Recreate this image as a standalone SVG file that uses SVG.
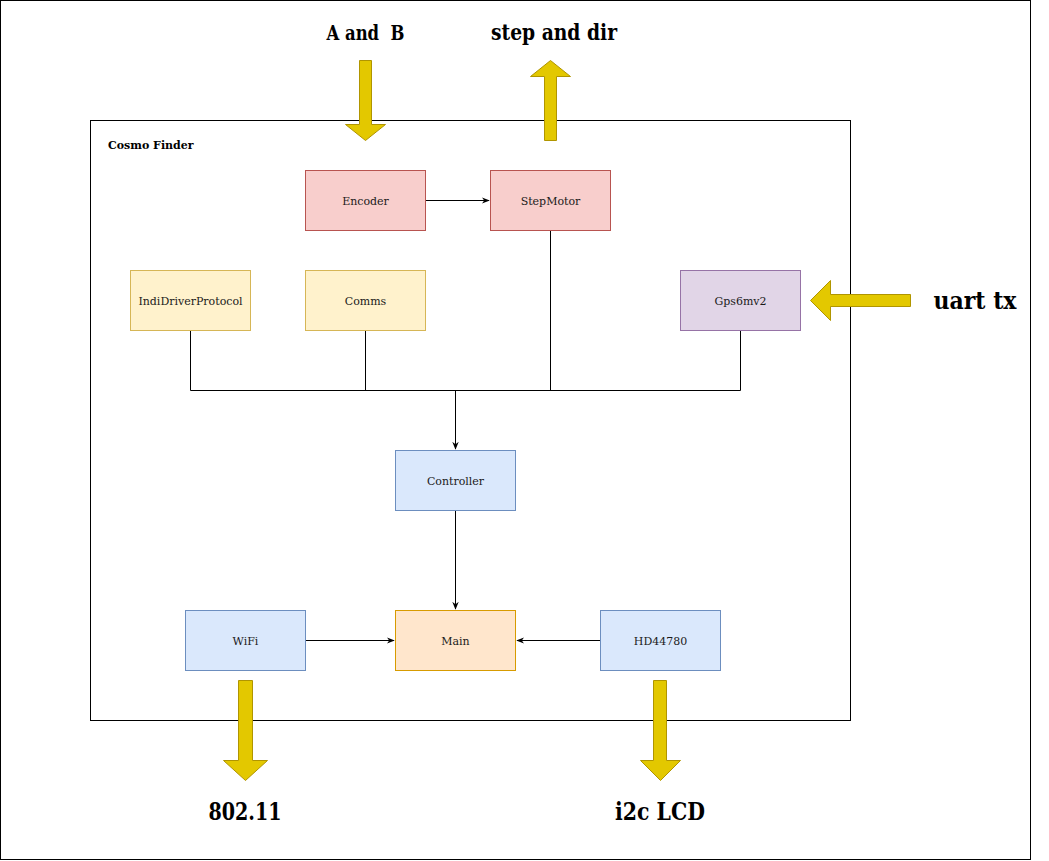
<svg xmlns="http://www.w3.org/2000/svg" width="1049" height="861" viewBox="0 0 1049 861">
<style>
.node rect{stroke-width:1}
.red rect{fill:#f8cecc;stroke:#b85450}
.yel rect{fill:#fff2cc;stroke:#d6b656}
.pur rect{fill:#e1d5e7;stroke:#9673a6}
.blu rect{fill:#dae8fc;stroke:#6c8ebf}
.org rect{fill:#ffe6cc;stroke:#d79b00}
.node text{font-family:'DejaVu Serif',serif;font-size:11px;fill:#1a1a1a;text-anchor:middle}
.conn path{fill:none;stroke:#000;stroke-width:1}
.big{fill:#e3c800;stroke:#b09500;stroke-width:1}
.lbl{font-family:'DejaVu Serif',serif;font-weight:bold;fill:#000;text-anchor:middle;white-space:pre}
</style>
<defs>
<marker id="arr" viewBox="0 0 10 10" refX="9" refY="5" markerWidth="8" markerHeight="8" orient="auto" markerUnits="userSpaceOnUse">
<path d="M0,1 L10,5 L0,9 L3,5 z" fill="#000"/>
</marker>
</defs>
<rect x="0.5" y="0.5" width="1030" height="859" fill="#fff" stroke="#000"/>
<g id="container">
<rect x="90.5" y="120.5" width="760" height="600" fill="none" stroke="#000"/>
<text x="108" y="149" font-family="'DejaVu Serif',serif" font-weight="bold" font-size="11" fill="#000">Cosmo Finder</text>
</g>
<g id="connectors" class="conn">
<path d="M425.5,200.5 H489" marker-end="url(#arr)"/>
<path d="M190.5,330.5 V390.5 H740.5 V330.5"/>
<path d="M365.5,330.5 V390.5"/>
<path d="M550.5,230.5 V390.5"/>
<path d="M455.5,390.5 V449" marker-end="url(#arr)"/>
<path d="M455.5,510.5 V609" marker-end="url(#arr)"/>
<path d="M305.5,640.5 H394" marker-end="url(#arr)"/>
<path d="M600.5,640.5 H517" marker-end="url(#arr)"/>
</g>
<g id="encoder" class="node red"><rect x="305.5" y="170.5" width="120" height="60"/><text x="365.5" y="204.5">Encoder</text></g>
<g id="stepmotor" class="node red"><rect x="490.5" y="170.5" width="120" height="60"/><text x="550.5" y="204.5">StepMotor</text></g>
<g id="indidriverprotocol" class="node yel"><rect x="130.5" y="270.5" width="120" height="60"/><text x="190.5" y="304.5">IndiDriverProtocol</text></g>
<g id="comms" class="node yel"><rect x="305.5" y="270.5" width="120" height="60"/><text x="365.5" y="304.5">Comms</text></g>
<g id="gps6mv2" class="node pur"><rect x="680.5" y="270.5" width="120" height="60"/><text x="740.5" y="304.5">Gps6mv2</text></g>
<g id="controller" class="node blu"><rect x="395.5" y="450.5" width="120" height="60"/><text x="455.5" y="484.5">Controller</text></g>
<g id="wifi" class="node blu"><rect x="185.5" y="610.5" width="120" height="60"/><text x="245.5" y="644.5">WiFi</text></g>
<g id="main" class="node org"><rect x="395.5" y="610.5" width="120" height="60"/><text x="455.5" y="644.5">Main</text></g>
<g id="hd44780" class="node blu"><rect x="600.5" y="610.5" width="120" height="60"/><text x="660.5" y="644.5">HD44780</text></g>
<g id="io-arrows">
<path class="big" d="M359.5,60.5 H371.5 V124.5 H385.5 L365.5,140.5 L345.5,124.5 H359.5 Z"/>
<path class="big" d="M544.5,140.5 H556.5 V76.5 H570.5 L550.5,60.5 L530.5,76.5 H544.5 Z"/>
<path class="big" d="M910.5,294.5 V306.5 H830.5 V320.5 L810.5,300.5 L830.5,280.5 V294.5 Z"/>
<path class="big" d="M238.5,680.5 H252.5 V760.5 H267.5 L245.5,780.5 L223.5,760.5 H238.5 Z"/>
<path class="big" d="M653.5,680.5 H666.5 V760.5 H680.5 L660.5,780.5 L640.5,760.5 H653.5 Z"/>
</g>
<g id="labels">
<text class="lbl" x="365.5" y="40" font-size="20" textLength="78" lengthAdjust="spacingAndGlyphs">A and  B</text>
<text class="lbl" x="554" y="40" font-size="22" textLength="126" lengthAdjust="spacingAndGlyphs">step and dir</text>
<text class="lbl" x="975" y="309" font-size="24" textLength="83" lengthAdjust="spacingAndGlyphs">uart tx</text>
<text class="lbl" x="245" y="820" font-size="24" textLength="73" lengthAdjust="spacingAndGlyphs">802.11</text>
<text class="lbl" x="660" y="820" font-size="24" textLength="90" lengthAdjust="spacingAndGlyphs">i2c LCD</text>
</g>
</svg>
